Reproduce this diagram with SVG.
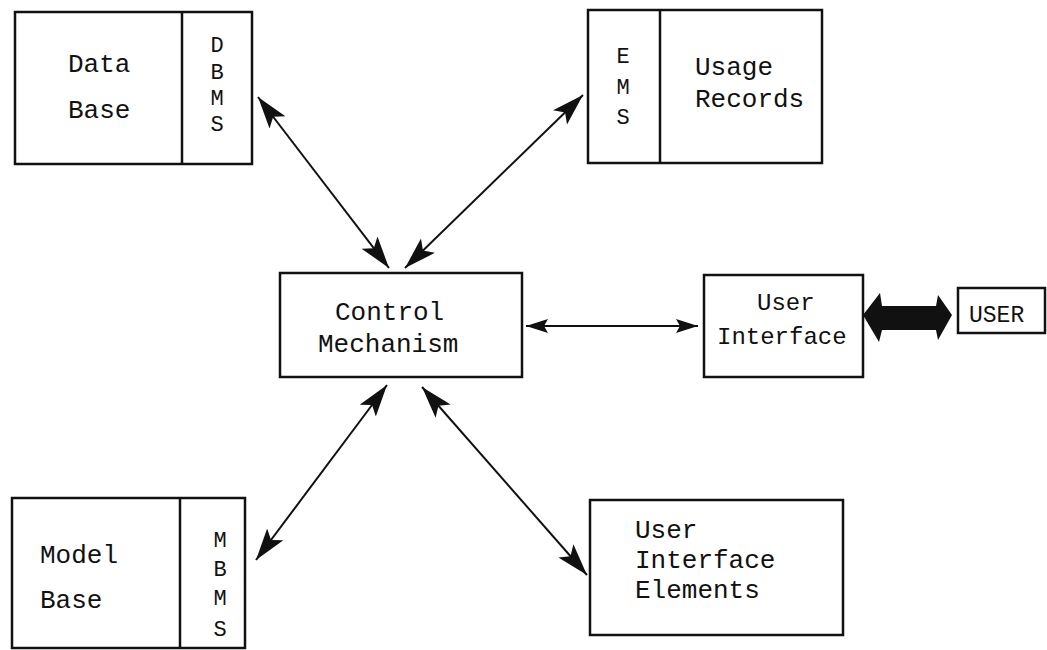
<svg xmlns="http://www.w3.org/2000/svg" width="1047" height="650" viewBox="0 0 1047 650">
<defs>
<style>
.box{fill:#fff;stroke:#111;stroke-width:2.5}
.div{stroke:#111;stroke-width:2.5}
.t{font-family:"Liberation Mono","Courier New",monospace;font-size:26px;fill:#111}
.l{font-family:"Liberation Mono","Courier New",monospace;font-size:22px;fill:#111;text-anchor:middle}
.con{stroke:#111;stroke-width:2;fill:none}
</style>
<marker id="ah" markerUnits="userSpaceOnUse" markerWidth="34" markerHeight="22" refX="32" refY="10" orient="auto-start-reverse">
<path d="M0,0 L32,10 L0,20 L7,10 z" fill="#111"/>
</marker>
<marker id="ahs" markerUnits="userSpaceOnUse" markerWidth="24" markerHeight="16" refX="22" refY="7" orient="auto-start-reverse">
<path d="M0,0 L22,7 L0,14 L4,7 z" fill="#111"/>
</marker>
</defs>
<rect width="1047" height="650" fill="#fff"/>
<g id="connectors">
<line class="con" x1="258" y1="97" x2="389" y2="268" marker-start="url(#ah)" marker-end="url(#ah)"/>
<line class="con" x1="583" y1="95" x2="405" y2="268" marker-start="url(#ah)" marker-end="url(#ah)"/>
<line class="con" x1="387" y1="385" x2="256" y2="560" marker-start="url(#ah)" marker-end="url(#ah)"/>
<line class="con" x1="422" y1="387" x2="587" y2="575" marker-start="url(#ah)" marker-end="url(#ah)"/>
<line class="con" x1="526" y1="326" x2="698" y2="326" marker-start="url(#ahs)" marker-end="url(#ahs)"/>
<path d="M863,315 L880,293 L882,306 L936,306 L938,295 L952,315 L938,340 L936,330 L882,330 L879,342 Z" fill="#111"/>
</g>
<g id="database">
<rect class="box" x="15" y="12" width="237" height="152"/>
<line class="div" x1="182" y1="12" x2="182" y2="164"/>
<text class="t" x="68" y="72">Data</text>
<text class="t" x="68" y="118">Base</text>
<text class="l" x="217" y="52">D</text>
<text class="l" x="217" y="79">B</text>
<text class="l" x="217" y="105">M</text>
<text class="l" x="217" y="131">S</text>
</g>
<g id="usage">
<rect class="box" x="588" y="10" width="234" height="153"/>
<line class="div" x1="660" y1="10" x2="660" y2="163"/>
<text class="l" x="623" y="63">E</text>
<text class="l" x="623" y="94">M</text>
<text class="l" x="623" y="124">S</text>
<text class="t" x="695" y="75">Usage</text>
<text class="t" x="695" y="107">Records</text>
</g>
<g id="control">
<rect class="box" x="280" y="273" width="242" height="104"/>
<text class="t" x="335" y="320">Control</text>
<text class="t" x="318" y="352">Mechanism</text>
</g>
<g id="userinterface">
<rect class="box" x="704" y="275" width="159" height="102"/>
<text class="t" x="757" y="310" style="font-size:24px">User</text>
<text class="t" x="717" y="344" style="font-size:24px">Interface</text>
</g>
<g id="user">
<rect class="box" x="958" y="288" width="87" height="45"/>
<text class="t" x="969" y="322" style="font-size:23px">USER</text>
</g>
<g id="modelbase">
<rect class="box" x="12" y="498" width="233" height="150"/>
<line class="div" x1="180" y1="498" x2="180" y2="648"/>
<text class="t" x="40" y="563">Model</text>
<text class="t" x="40" y="608">Base</text>
<text class="l" x="220" y="547">M</text>
<text class="l" x="220" y="576">B</text>
<text class="l" x="220" y="605">M</text>
<text class="l" x="220" y="636">S</text>
</g>
<g id="uielements">
<rect class="box" x="590" y="500" width="253" height="135"/>
<text class="t" x="635" y="538">User</text>
<text class="t" x="635" y="568">Interface</text>
<text class="t" x="635" y="598">Elements</text>
</g>
</svg>
